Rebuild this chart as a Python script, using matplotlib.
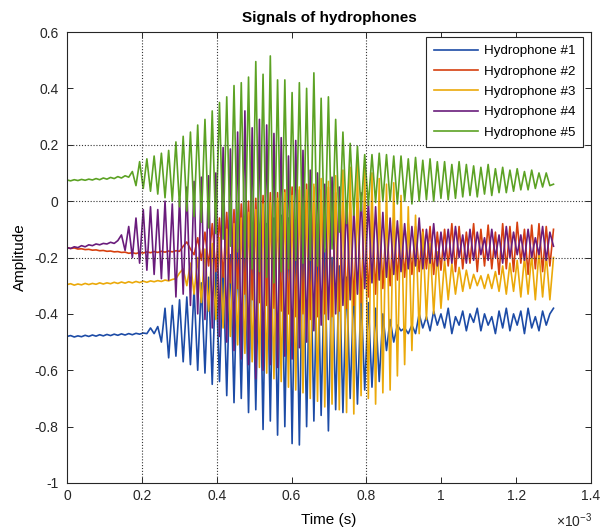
import numpy as np
import matplotlib
matplotlib.use("Agg")
import matplotlib.pyplot as plt

plt.rcParams["font.family"] = ["Liberation Sans", "DejaVu Sans"]
plt.rcParams["mathtext.fontset"] = "custom"
plt.rcParams["mathtext.rm"] = "Liberation Sans"
plt.rcParams["mathtext.it"] = "Liberation Sans:italic"

# Sampling interval of the recorded extrema (seconds)
SAMPLE_STEP = 9.7e-6

series_names = ["Hydrophone #1", "Hydrophone #2", "Hydrophone #3",
                "Hydrophone #4", "Hydrophone #5"]

hydrophone_1 = [
    -0.480, -0.477, -0.482, -0.478, -0.481, -0.476, -0.480, -0.475, -0.479, -0.474,
    -0.478, -0.473, -0.477, -0.472, -0.476, -0.471, -0.475, -0.470, -0.474, -0.469,
    -0.472, -0.468, -0.470,
    -0.450, -0.470, -0.445,
    -0.500, -0.380, -0.556, -0.370, -0.550, -0.350, -0.570, -0.340, -0.580, -0.310,
    -0.600, -0.290, -0.610, -0.270, -0.650, -0.240, -0.640, -0.220, -0.690, -0.190,
    -0.715, -0.170, -0.700, -0.140, -0.750, -0.120, -0.740, -0.100, -0.810, -0.080,
    -0.780, -0.060, -0.830, -0.050, -0.800, -0.060, -0.860, -0.070, -0.865, -0.090,
    -0.800, -0.120, -0.780, -0.140, -0.760, -0.170, -0.815, -0.200, -0.740, -0.230,
    -0.750, -0.270, -0.700, -0.300, -0.720, -0.330, -0.670, -0.360, -0.660, -0.380,
    -0.640, -0.400, -0.530, -0.420, -0.500, -0.440, -0.460, -0.450, -0.470, -0.440,
    -0.470, -0.400, -0.450, -0.410, -0.460, -0.390, -0.440, -0.400, -0.450, -0.380,
    -0.470, -0.410, -0.440, -0.390, -0.460, -0.400, -0.430, -0.380, -0.460, -0.400,
    -0.440, -0.410, -0.470, -0.390, -0.450, -0.380, -0.460, -0.400, -0.440, -0.390,
    -0.470, -0.380, -0.450, -0.410, -0.460, -0.390, -0.440, -0.400, -0.380,
]

hydrophone_2 = [
    -0.165, -0.168, -0.166, -0.170, -0.169, -0.172, -0.171, -0.174, -0.173, -0.176,
    -0.175, -0.178, -0.177, -0.180, -0.179, -0.182, -0.181, -0.185, -0.183, -0.186,
    -0.182, -0.184, -0.180, -0.183, -0.179, -0.182, -0.178, -0.181, -0.177, -0.180,
    -0.176, -0.178,
    -0.160, -0.145, -0.170, -0.190,
    -0.130, -0.210, -0.110, -0.230, -0.080, -0.250, -0.060, -0.270, -0.040, -0.290,
    -0.030, -0.310, -0.010, -0.330, 0.000, -0.350, 0.010, -0.360, 0.020, -0.370,
    0.030, -0.380, 0.030, -0.390, 0.040, -0.400, 0.050, -0.410, 0.040, -0.400,
    0.060, -0.420, 0.050, -0.410, 0.040, -0.400, 0.050, -0.410, 0.030, -0.390,
    0.020, -0.380, 0.000, -0.370, 0.010, -0.360, -0.010, -0.340, -0.020, -0.330,
    -0.040, -0.310, -0.050, -0.300, -0.060, -0.280, -0.070, -0.270, -0.080, -0.260,
    -0.090, -0.250, -0.100, -0.240, -0.090, -0.260, -0.110, -0.245, -0.100, -0.230,
    -0.080, -0.250, -0.090, -0.240, -0.110, -0.220, -0.080, -0.250, -0.100, -0.230,
    -0.085, -0.240, -0.110, -0.260, -0.080, -0.240, -0.090, -0.250, -0.075, -0.220,
    -0.100, -0.260, -0.085, -0.240, -0.080, -0.250, -0.090, -0.230, -0.100,
]

hydrophone_3 = [
    -0.296, -0.293, -0.298, -0.294, -0.297, -0.292, -0.296, -0.292, -0.295, -0.290,
    -0.294, -0.290, -0.293, -0.288, -0.292, -0.287, -0.291, -0.286, -0.290, -0.285,
    -0.289, -0.284, -0.288, -0.283, -0.286, -0.282, -0.285, -0.280, -0.283, -0.278,
    -0.275,
    -0.255, -0.240, -0.300,
    -0.220, -0.330, -0.200, -0.360, -0.170, -0.390, -0.150, -0.420, -0.130, -0.450,
    -0.100, -0.480, -0.080, -0.510, -0.060, -0.540, -0.040, -0.570, -0.030, -0.590,
    -0.010, -0.610, 0.000, -0.630, 0.010, -0.640, 0.030, -0.660, 0.020, -0.670,
    0.050, -0.680, 0.040, -0.700, 0.060, -0.710, 0.080, -0.730, 0.070, -0.720,
    0.090, -0.740, 0.110, -0.750, 0.120, -0.755, 0.140, -0.690, 0.120, -0.700,
    0.100, -0.720, 0.080, -0.680, 0.060, -0.670, 0.065, -0.620, 0.020, -0.580,
    -0.020, -0.530, -0.050, -0.470, -0.110, -0.420, -0.150, -0.400, -0.180, -0.380,
    -0.210, -0.350, -0.220, -0.330, -0.235, -0.320, -0.245, -0.310, -0.260, -0.300,
    -0.265, -0.310, -0.260, -0.310, -0.250, -0.320, -0.230, -0.330, -0.220, -0.320,
    -0.210, -0.340, -0.200, -0.330, -0.190, -0.350, -0.180, -0.340, -0.190, -0.350,
    -0.200,
]

hydrophone_4 = [
    -0.165, -0.168, -0.162, -0.165, -0.158, -0.162, -0.155, -0.158, -0.152, -0.155,
    -0.150, -0.152, -0.146, -0.150, -0.140,
    -0.120, -0.175, -0.090, -0.200, -0.060, -0.220, -0.030, -0.245, -0.020, -0.260,
    -0.030, -0.275, 0.000, -0.280, -0.010, -0.340,
    0.010, -0.330, 0.050, -0.370, 0.070, -0.400, 0.085, -0.420, 0.090, -0.450,
    0.100, -0.480, 0.190, -0.500, 0.185, -0.530, 0.245, -0.560, 0.320, -0.580,
    0.260, -0.630, 0.290, -0.600, 0.270, -0.580, 0.240, -0.590, 0.225, -0.550,
    0.160, -0.560, 0.215, -0.520, 0.180, -0.500, 0.110, -0.460, 0.100, -0.440,
    0.060, -0.420, 0.085, -0.400, 0.050, -0.370, 0.000, -0.350, -0.030, -0.330,
    0.030, -0.310, 0.000, -0.290, -0.020, -0.280, -0.040, -0.270, -0.060, -0.260,
    -0.070, -0.250, -0.080, -0.240, -0.090, -0.230, -0.060, -0.240, -0.100, -0.220,
    -0.080, -0.230, -0.110, -0.210, -0.100, -0.220, -0.090, -0.200, -0.120, -0.220,
    -0.100, -0.210, -0.110, -0.190, -0.130, -0.210, -0.100, -0.200, -0.120, -0.220,
    -0.090, -0.200, -0.110, -0.190, -0.120, -0.210, -0.100, -0.200, -0.130, -0.190,
    -0.090, -0.210, -0.110, -0.160,
]

hydrophone_5 = [
    0.075, 0.072, 0.076, 0.073, 0.077, 0.074, 0.078, 0.075, 0.080, 0.076,
    0.082, 0.078, 0.084, 0.080, 0.087, 0.082, 0.090, 0.085,
    0.105, 0.055, 0.140, 0.045,
    0.150, 0.035, 0.160, 0.025, 0.170, 0.012, 0.180, 0.000, 0.210, -0.020,
    0.230, -0.035, 0.245, -0.055, 0.270, -0.075, 0.290, -0.095, 0.320, -0.115,
    0.350, -0.135, 0.370, -0.160, 0.410, -0.180, 0.420, -0.200, 0.440, -0.240,
    0.495, -0.250, 0.450, -0.270, 0.515, -0.290, 0.430, -0.250, 0.430, -0.240,
    0.385, -0.210, 0.420, -0.220, 0.400, -0.210, 0.455, -0.230, 0.365, -0.180,
    0.370, -0.170, 0.290, -0.110, 0.245, -0.080, 0.205, -0.050, 0.195, -0.035,
    0.165, -0.015, 0.165, -0.005, 0.170, 0.000,
    0.165, 0.000, 0.160, -0.010, 0.160, 0.000, 0.150, -0.010, 0.155, 0.000,
    0.145, 0.005, 0.150, 0.000, 0.140, 0.010, 0.140, 0.005, 0.130, 0.010,
    0.140, 0.015, 0.130, 0.020, 0.125, 0.015, 0.120, 0.025, 0.130, 0.020,
    0.115, 0.030, 0.120, 0.030, 0.110, 0.035, 0.115, 0.040, 0.105, 0.040,
    0.110, 0.045, 0.100, 0.050, 0.100, 0.055, 0.060,
]

series_values = [hydrophone_1, hydrophone_2, hydrophone_3, hydrophone_4, hydrophone_5]
series_colors = ["#1c4ba6", "#d6400f", "#eba90a", "#6a1c7c", "#5ca224"]

x_ticks = [0, 0.2e-3, 0.4e-3, 0.6e-3, 0.8e-3, 1.0e-3, 1.2e-3, 1.4e-3]
x_tick_labels = ["0", "0.2", "0.4", "0.6", "0.8", "1", "1.2", "1.4"]
y_ticks = [-1, -0.8, -0.6, -0.4, -0.2, 0, 0.2, 0.4, 0.6]
y_tick_labels = ["-1", "-0.8", "-0.6", "-0.4", "-0.2", "0", "0.2", "0.4", "0.6"]

# Reference markers drawn across the plot
marker_times = [0.2e-3, 0.4e-3, 0.8e-3]
marker_levels = [0.2, 0.0, -0.2]

W, H = 601, 530
fig = plt.figure(figsize=(W / 100, H / 100), dpi=100)
ax = fig.add_axes([67 / W, (H - 483) / H, (591 - 67) / W, (483 - 32) / H])

for name, vals, col in zip(series_names, series_values, series_colors):
    t = np.arange(len(vals)) * SAMPLE_STEP
    ax.plot(t, vals, color=col, lw=1.2, label=name)

for tm in marker_times:
    ax.axvline(tm, color="0.2", lw=0.8, linestyle=(0, (1, 1.6)), zorder=5)
for lv in marker_levels:
    ax.axhline(lv, color="0.2", lw=0.8, linestyle=(0, (1, 1.6)), zorder=5)

ax.set_xlim(0, 1.4e-3)
ax.set_ylim(-1, 0.6)
ax.set_xticks(x_ticks)
ax.set_xticklabels(x_tick_labels)
ax.set_yticks(y_ticks)
ax.set_yticklabels(y_tick_labels)
ax.tick_params(axis="both", direction="in", top=True, right=True,
               length=4.5, width=0.7, labelsize=10, colors="0.15")
ax.tick_params(axis="x", pad=4)
ax.tick_params(axis="y", pad=6)
for sp in ax.spines.values():
    sp.set_linewidth(0.8)
    sp.set_color("0.15")

ax.set_title("Signals of hydrophones", fontsize=11, fontweight="bold", pad=7)
ax.set_xlabel("Time (s)", fontsize=11)
ax.xaxis.label.set_va("center")
ax.xaxis.set_label_coords(0.5, (483 - 520) / (483 - 32))
ax.set_ylabel("Amplitude", fontsize=11)
ax.yaxis.label.set_va("center")
ax.yaxis.set_label_coords((20 - 67) / (591 - 67), 0.5)

fig.text(592 / W, (H - 521) / H, r"$\times10^{-3}$", ha="right", va="center",
         fontsize=10, color="0.15")

leg = ax.legend(loc="upper right",
                bbox_to_anchor=((583 - 67) / (591 - 67), (483 - 37) / (483 - 32)),
                borderaxespad=0, fontsize=9.6, handlelength=3.3,
                handletextpad=0.45, labelspacing=0.6, borderpad=0.6,
                fancybox=False, framealpha=1, edgecolor="0.15")
leg.get_frame().set_linewidth(0.8)
leg.set_zorder(10)

fig.savefig("out.png", dpi=100)
